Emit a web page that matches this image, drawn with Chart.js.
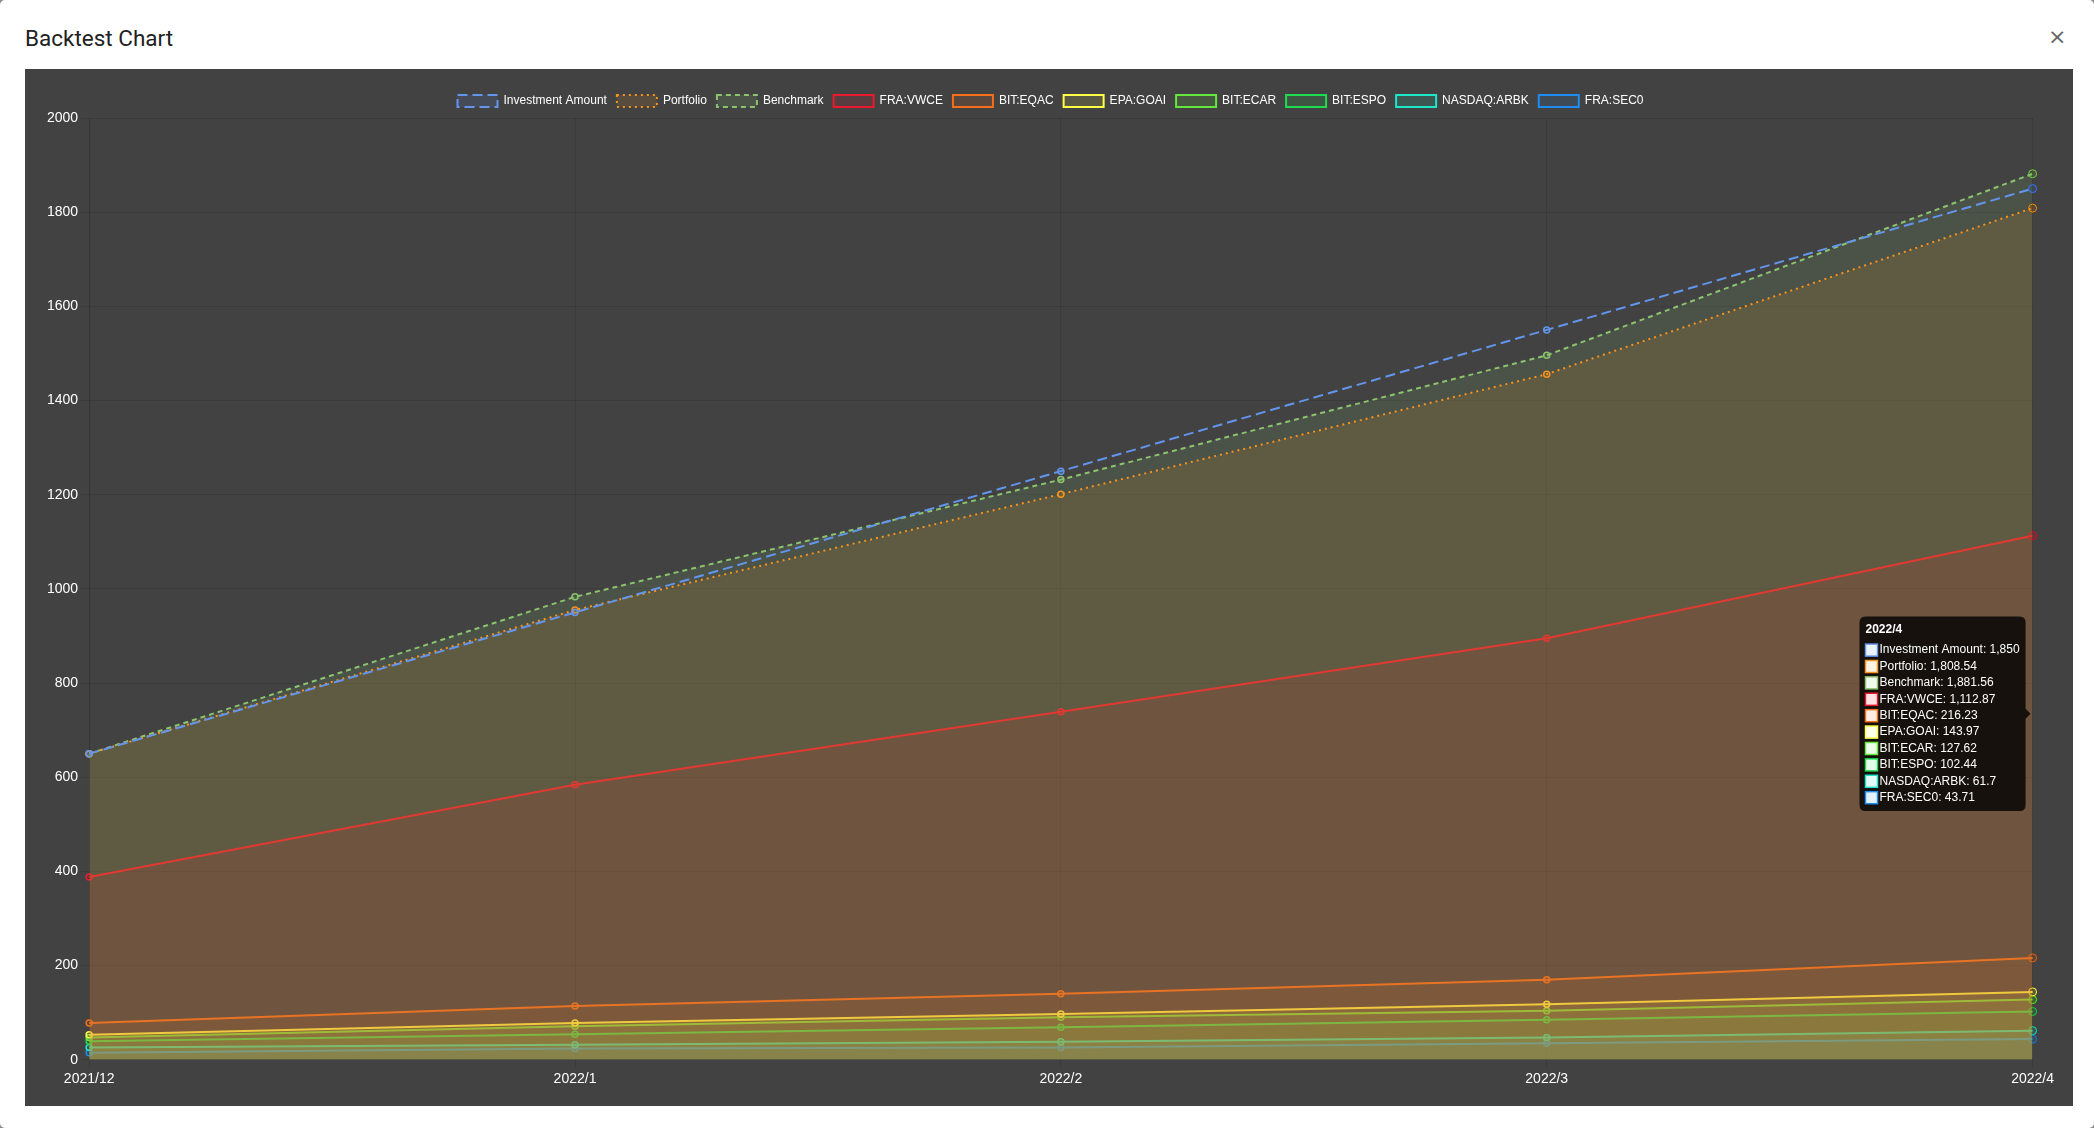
<!DOCTYPE html>
<html>
<head>
<meta charset="utf-8">
<script src="https://cdn.jsdelivr.net/npm/chart.js@4.4.0/dist/chart.umd.min.js"></script>
<style>
  html, body { margin: 0; padding: 0; background: #8a8a8a; width: 2094px; height: 1128px; overflow: hidden; }
  #modal { position: absolute; left: 0; top: 0; width: 2094px; height: 1128px; background: #fff; border-radius: 5px; }
  #title { position: absolute; left: 25px; top: 25px; font-family: Roboto, 'Open Sans', sans-serif; font-size: 22.5px; color: #212121; font-weight: 400; }
  #close { position: absolute; left: 2048px; top: 24px; font-family: 'DejaVu Sans', sans-serif; font-size: 22px; color: #666; }
  #wrap { position: absolute; left: 25px; top: 69px; width: 2013px; height: 1005.5px; padding: 15.5px 16.5px 16px 18.5px; background: #424242; }
  #inner { position: relative; width: 2013px; height: 1005.5px; }
</style>
</head>
<body>
<div id="modal">
  <div id="title">Backtest Chart</div>
  <div id="close">×</div>
  <div id="wrap"><div id="inner"><canvas id="c"></canvas></div></div>
</div>
<script>
const labels = ['2021/12', '2022/1', '2022/2', '2022/3', '2022/4'];
const seriesNames = ['Investment Amount', 'Portfolio', 'Benchmark', 'FRA:VWCE', 'BIT:EQAC', 'EPA:GOAI', 'BIT:ECAR', 'BIT:ESPO', 'NASDAQ:ARBK', 'FRA:SEC0'];
const investmentAmount = [650, 950, 1250, 1550, 1850];
const portfolio = [650, 955, 1201, 1456, 1808.54];
const benchmark = [650, 983, 1232, 1496, 1881.56];
const fraVWCE = [388, 584, 739, 895, 1112.87];
const bitEQAC = [78, 114, 140, 170, 216.23];
const epaGOAI = [53, 78, 97, 118, 143.97];
const bitECAR = [47, 71, 90, 104, 127.62];
const bitESPO = [39, 54, 69, 85, 102.44];
const nasdaqARBK = [26, 32, 38, 47, 61.7];
const fraSEC0 = [15, 24, 26, 35, 43.71];
const yMax = 2000;
const yStep = 200;

const values = [investmentAmount, portfolio, benchmark, fraVWCE, bitEQAC, epaGOAI, bitECAR, bitESPO, nasdaqARBK, fraSEC0];
const colors = [
  [100, 149, 237], [247, 147, 30], [140, 195, 110], [235, 25, 45], [245, 110, 25],
  [255, 255, 70], [100, 230, 60], [30, 220, 80], [30, 230, 200], [30, 140, 240]
];
const dashes = [[10, 5], [2, 4], [5, 4], [], [], [], [], [], [], []];

Chart.defaults.font.family = "'Liberation Sans', Arial, sans-serif";
Chart.defaults.font.size = 12;
Chart.defaults.color = '#fff';

const datasets = seriesNames.map((name, i) => {
  const c = colors[i];
  return {
    label: name,
    data: values[i],
    borderColor: `rgb(${c[0]},${c[1]},${c[2]})`,
    backgroundColor: `rgba(${c[0]},${c[1]},${c[2]},0.12)`,
    borderWidth: 2,
    borderDash: dashes[i],
    pointRadius: 3,
    pointBorderWidth: 1.5,
    pointHoverRadius: 4,
    fill: i === 0 ? false : true,
    tension: 0
  };
});

const legendMargin = {
  id: 'legendMargin',
  beforeInit(chart) {
    const origFit = chart.legend.fit;
    chart.legend.fit = function () { origFit.call(this); this.height += 1; };
  }
};

const chart = new Chart(document.getElementById('c'), {
  type: 'line',
  data: { labels: labels, datasets: datasets },
  plugins: [legendMargin],
  options: {
    responsive: true,
    maintainAspectRatio: false,
    animation: false,
    layout: { padding: 0 },
    interaction: { mode: 'index', intersect: false },
    plugins: {
      legend: { labels: { color: '#fff' } },
      tooltip: { mode: 'index', intersect: false }
    },
    scales: {
      x: { ticks: { color: '#fff', font: { size: 14 } } },
      y: { min: 0, max: yMax, ticks: { stepSize: yStep, color: '#fff', font: { size: 14 }, callback: v => String(v) } }
    }
  }
});

const active = datasets.map((d, i) => ({ datasetIndex: i, index: 4 }));
const pt = chart.getDatasetMeta(0).data[4];
chart.setActiveElements(active);
chart.tooltip.setActiveElements(active, { x: pt.x, y: pt.y });
chart.update();
</script>
</body>
</html>
